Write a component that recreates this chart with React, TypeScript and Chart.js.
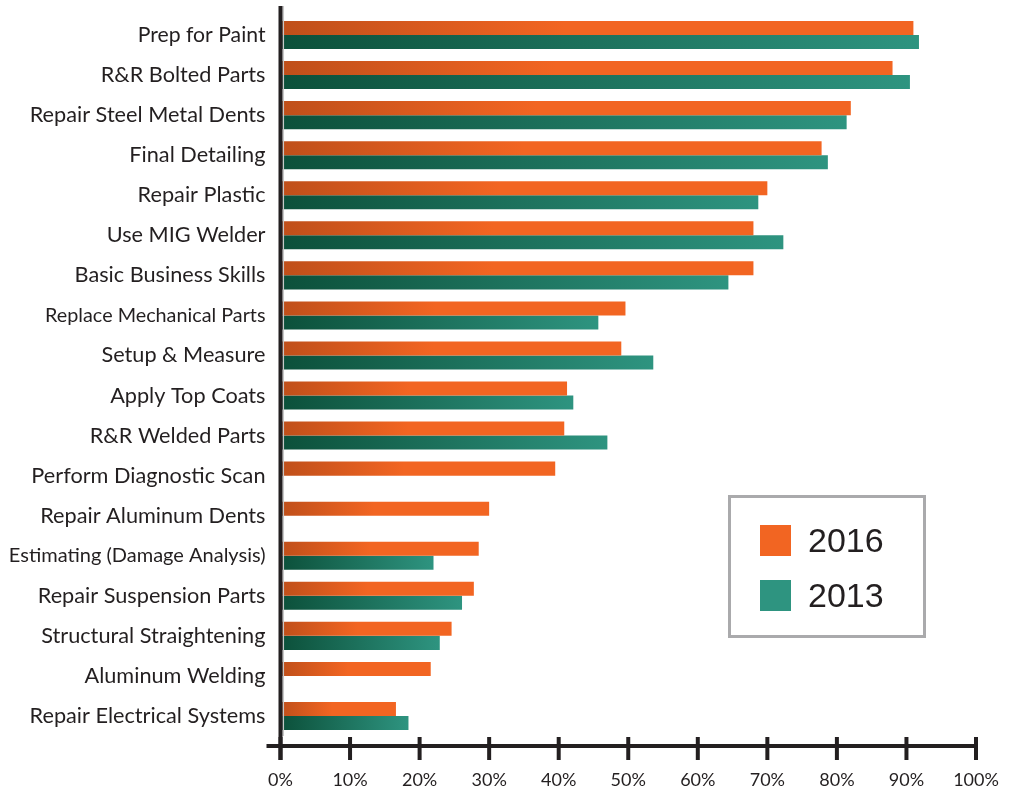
import React, { useEffect, useRef } from "react";
import { Chart, registerables } from "chart.js";

Chart.register(...registerables);

const categories = [
  "Prep for Paint",
  "R&R Bolted Parts",
  "Repair Steel Metal Dents",
  "Final Detailing",
  "Repair Plastic",
  "Use MIG Welder",
  "Basic Business Skills",
  "Replace Mechanical Parts",
  "Setup & Measure",
  "Apply Top Coats",
  "R&R Welded Parts",
  "Perform Diagnostic Scan",
  "Repair Aluminum Dents",
  "Estimating (Damage Analysis)",
  "Repair Suspension Parts",
  "Structural Straightening",
  "Aluminum Welding",
  "Repair Electrical Systems",
];

const values2016 = [91, 88, 82, 77.8, 70, 68, 68, 49.6, 49, 41.2, 40.8, 39.5, 30, 28.5, 27.8, 24.6, 21.6, 16.6];
const values2013: (number | null)[] = [91.8, 90.5, 81.4, 78.7, 68.7, 72.3, 64.4, 45.7, 53.6, 42.1, 47, null, null, 22, 26.1, 22.9, null, 18.4];

const tickValues = [0, 10, 20, 30, 40, 50, 60, 70, 80, 90, 100];

const ORANGE = "#f26522";
const ORANGE_DARK = "#bf4f1a";
const TEAL = "#2e9480";
const TEAL_DARK = "#0c503a";

const condensedLabels: Record<string, number> = {
  "Estimating (Damage Analysis)": 20,
  "Replace Mechanical Parts": 19.8,
  "Prep for Paint": 21.2,
};

function barGradient(ctx: any, dark: string, light: string, stop: number) {
  const chart = ctx.chart;
  const xs = chart.scales?.x;
  if (!xs || ctx.type !== "data") return light;
  const v = ctx.parsed?.x ?? 0;
  const x0 = xs.getPixelForValue(0);
  const x1 = xs.getPixelForValue(v);
  if (!isFinite(x0) || !isFinite(x1) || x1 - x0 < 1) return light;
  const g = chart.ctx.createLinearGradient(x0, 0, x1, 0);
  g.addColorStop(0, dark);
  g.addColorStop(stop, light);
  g.addColorStop(1, light);
  return g;
}

const axisPlugin = {
  id: "customAxes",
  afterDatasetsDraw(chart: any) {
    const { ctx, scales, chartArea } = chart;
    const xs = scales.x;
    const x0 = xs.getPixelForValue(0);
    const x100 = xs.getPixelForValue(100);
    const axisY = chartArea.bottom + 10;
    ctx.save();
    ctx.strokeStyle = "#c8c8c8";
    ctx.lineWidth = 1.5;
    ctx.beginPath();
    ctx.moveTo(x0 + 2.8, 6);
    ctx.lineTo(x0 + 2.8, chartArea.bottom);
    ctx.stroke();
    ctx.strokeStyle = "#231f20";
    ctx.lineWidth = 4;
    ctx.lineCap = "butt";
    ctx.beginPath();
    ctx.moveTo(x0, 6);
    ctx.lineTo(x0, axisY + 14);
    ctx.stroke();
    ctx.beginPath();
    ctx.moveTo(x0 - 14, axisY);
    ctx.lineTo(x100 + 2, axisY);
    ctx.stroke();
    tickValues.forEach((t) => {
      const px = xs.getPixelForValue(t);
      ctx.beginPath();
      ctx.moveTo(px, axisY - 9);
      ctx.lineTo(px, axisY + 14);
      ctx.stroke();
    });
    ctx.restore();
  },
};

const legendPlugin = {
  id: "boxLegend",
  afterDraw(chart: any) {
    const { ctx } = chart;
    ctx.save();
    ctx.strokeStyle = "#aaaaac";
    ctx.lineWidth = 3;
    ctx.strokeRect(729.5, 496.5, 195, 140);
    const items = chart.data.datasets.map((d: any) => ({ label: d.label, color: d.legendColor }));
    items.forEach((it: any, i: number) => {
      const y = 525 + i * 55;
      ctx.fillStyle = it.color;
      ctx.fillRect(760, y, 31, 31);
      ctx.fillStyle = "#231f20";
      ctx.font = "34px 'Liberation Sans', Arial, sans-serif";
      ctx.textBaseline = "middle";
      ctx.textAlign = "left";
      ctx.fillText(it.label, 808, y + 18);
    });
    ctx.restore();
  },
};

function noPad(s: any) {
  s.paddingTop = 0;
  s.paddingBottom = 0;
  s.paddingLeft = 0;
  s.paddingRight = 0;
}

export default function App() {
  const ref = useRef<HTMLCanvasElement>(null);
  useEffect(() => {
    if (!ref.current) return;
    const chart = new Chart(ref.current, {
      type: "bar",
      data: {
        labels: categories,
        datasets: [
          {
            label: "2016",
            data: values2016,
            legendColor: ORANGE,
            backgroundColor: (c: any) => barGradient(c, ORANGE_DARK, ORANGE, 0.45),
            categoryPercentage: 0.7,
            barPercentage: 1,
          } as any,
          {
            label: "2013",
            data: values2013,
            legendColor: TEAL,
            backgroundColor: (c: any) => barGradient(c, TEAL_DARK, TEAL, 1),
            categoryPercentage: 0.7,
            barPercentage: 1,
          } as any,
        ],
      },
      options: {
        indexAxis: "y",
        animation: false,
        responsive: false,
        maintainAspectRatio: false,
        layout: { padding: { top: 15, right: 40, left: 0, bottom: 0 } },
        plugins: { legend: { display: false }, tooltip: { enabled: false } },
        scales: {
          x: {
            min: 0,
            max: 100,
            grid: { display: false, drawTicks: false },
            border: { display: false },
            afterFit: (s: any) => { s.height = 56; noPad(s); },
            afterBuildTicks: (s: any) => { s.ticks = tickValues.map((v) => ({ value: v })); },
            ticks: {
              padding: 33,
              color: "#231f20",
              font: { family: "Lato, 'Open Sans', sans-serif", size: 18 },
              callback: (v: any) => v + "%",
              maxRotation: 0,
            },
          },
          y: {
            grid: { display: false, drawTicks: false },
            border: { display: false },
            afterFit: (s: any) => { s.width = 280.5; noPad(s); },
            ticks: {
              padding: 15,
              color: "#231f20",
              font: (c: any) => {
                const lbl = categories[c.index] ?? "";
                return { family: "Lato, 'Open Sans', sans-serif", size: condensedLabels[lbl] ?? 21.7 };
              },
            },
          },
        },
      },
      plugins: [axisPlugin, legendPlugin],
    });
    return () => chart.destroy();
  }, []);
  return (
    <div style={{ position: "absolute", left: 0, top: 0, width: 1016, height: 792, background: "#fff" }}>
      <canvas ref={ref} width={1016} height={792} style={{ width: 1016, height: 792 }} />
    </div>
  );
}
